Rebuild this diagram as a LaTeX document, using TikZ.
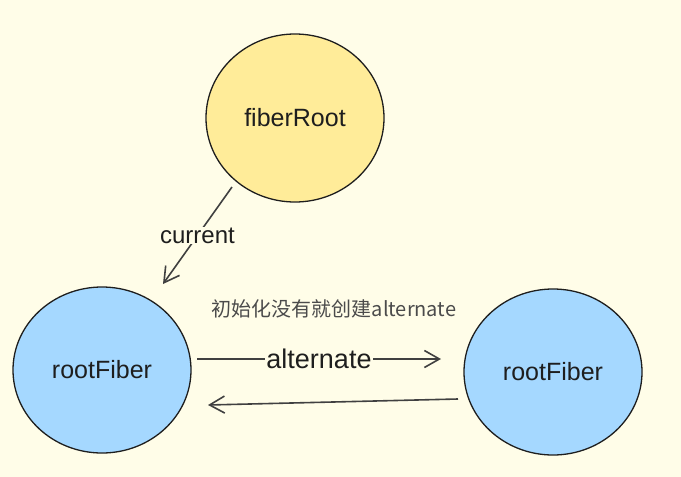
\documentclass[tikz,border=0pt]{standalone}
\usepackage{fontspec}
\setmainfont{Liberation Sans}
\newfontfamily\cjk{Noto Sans CJK SC}
\usetikzlibrary{arrows.meta,shapes.geometric}
\definecolor{bg}{HTML}{FFFDE8}
\definecolor{yel}{HTML}{FFEC99}
\definecolor{blu}{HTML}{A5D8FF}
\definecolor{ink}{HTML}{1E1E1E}
\tikzset{
  blob/.style={draw=ink, line width=1.3pt, ellipse, minimum width=178pt, minimum height=166pt, font=\fontsize{25}{30}\selectfont, text=ink},
  conn/.style={draw=ink!85, line width=1.6pt, -{Straight Barb[length=15pt,width=17pt,line width=1.6pt]}},
  lbl/.style={fill=bg, inner sep=1pt, text=ink},
}
\begin{document}
\begin{tikzpicture}[x=1pt,y=-1pt]
\fill[bg] (0,0) rectangle (681,477);
\useasboundingbox (0,0) rectangle (681,477);
\node[blob, fill=yel, minimum height=168pt] (root) at (295,118) {fiberRoot};
\node[blob, fill=blu] (left) at (102,370) {rootFiber};
\node[blob, fill=blu] (right) at (553,372) {rootFiber};
\coordinate (c1) at (232,187);
\coordinate (c2) at (163,284);
\draw[conn] (c1) -- node[lbl, pos=0.5, font=\fontsize{24}{28}\selectfont] (curlab) {current} (c2);
\coordinate (a1) at (197,359);
\coordinate (a2) at (441,359);
\draw[conn] (a1) -- node[lbl, pos=0.5, font=\fontsize{27}{32}\selectfont] (altlab) {alternate} (a2);
\coordinate (b1) at (458,399);
\coordinate (b2) at (208,405);
\draw[conn] (b1) -- (b2);
\node[text=ink!80, font=\cjk\fontsize{20}{24}\selectfont] (note) at (334,309) {初始化没有就创建alternate};
\end{tikzpicture}
\end{document}
